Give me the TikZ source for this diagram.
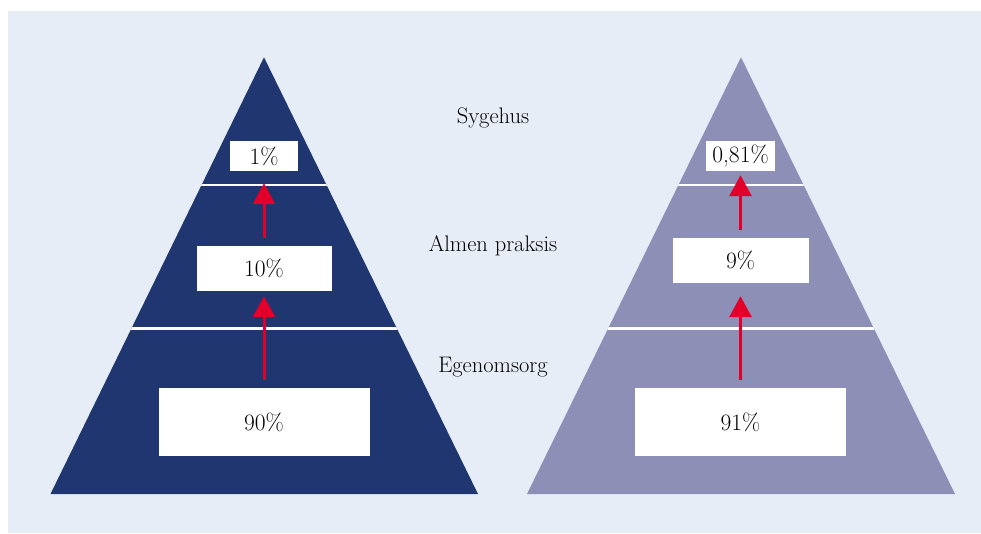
\documentclass[tikz,border=0pt]{standalone}
\usetikzlibrary{arrows.meta}
\definecolor{bgblue}{HTML}{E6EDF7}
\definecolor{darkpyr}{HTML}{1F3671}
\definecolor{lightpyr}{HTML}{8D8FB6}
\definecolor{arrred}{HTML}{E2002B}
\tikzset{
  valbox/.style={fill=white, draw=none, inner sep=0pt, font=\fontsize{23.5}{28}\selectfont, text=black},
  lvl/.style={font=\fontsize{22.5}{27}\selectfont, anchor=base, inner sep=0pt},
  sep/.style={draw=white, line width=2.5pt},
  uparr/.style={draw=arrred, line width=3pt, -{Triangle[length=21pt,width=22pt]}},
}
\begin{document}
\begin{tikzpicture}[x=1pt,y=-1pt]
\fill[white] (0,0) rectangle (981,533);
\useasboundingbox (0,0) rectangle (981,533);
\fill[bgblue] (8,11) rectangle (981,533);

% left pyramid
\fill[darkpyr] (264,57.3) -- (478,494) -- (50.5,494) -- cycle;
\begin{scope}
\clip (264,57.3) -- (478,494) -- (50.5,494) -- cycle;
\draw[sep] (40,185) -- (490,185);
\draw[sep] (40,328.5) -- (490,328.5);
\end{scope}
% right pyramid
\fill[lightpyr] (741,57.3) -- (955,494) -- (527,494) -- cycle;
\begin{scope}
\clip (741,57.3) -- (955,494) -- (527,494) -- cycle;
\draw[sep] (517,185) -- (967,185);
\draw[sep] (517,328.5) -- (967,328.5);
\end{scope}

% boxes left
\node[valbox, minimum width=68pt, minimum height=30pt] (l1) at (264,156) {1\%};
\node[valbox, minimum width=135pt, minimum height=45pt] (l10) at (264,268.5) {10\%};
\node[valbox, minimum width=211pt, minimum height=68pt] (l90) at (264,422) {90\%};
% boxes right
\node[valbox, minimum width=69pt, minimum height=30pt] (r081) at (740.5,156) {0,81\%};
\node[valbox, minimum width=136pt, minimum height=45pt] (r9) at (740.5,260) {9\%};
\node[valbox, minimum width=211pt, minimum height=68pt] (r91) at (740.5,422) {91\%};

% arrows
\draw[uparr, shorten <=8pt, shorten >=5pt] (l90.north) -- (l10.south);
\draw[uparr, shorten <=8pt, shorten >=12pt] (l10.north) -- (l1.south);
\draw[uparr, shorten <=8pt, shorten >=13.5pt] (r91.north) -- (r9.south);
\draw[uparr, shorten <=7.5pt, shorten >=4pt] (r9.north) -- (r081.south);

% level labels
\node[lvl] (syg) at (493,123.5) {Sygehus};
\node[lvl] (alm) at (493,251.5) {Almen praksis};
\node[lvl] (ege) at (493,372.5) {Egenomsorg};
\end{tikzpicture}
\end{document}
